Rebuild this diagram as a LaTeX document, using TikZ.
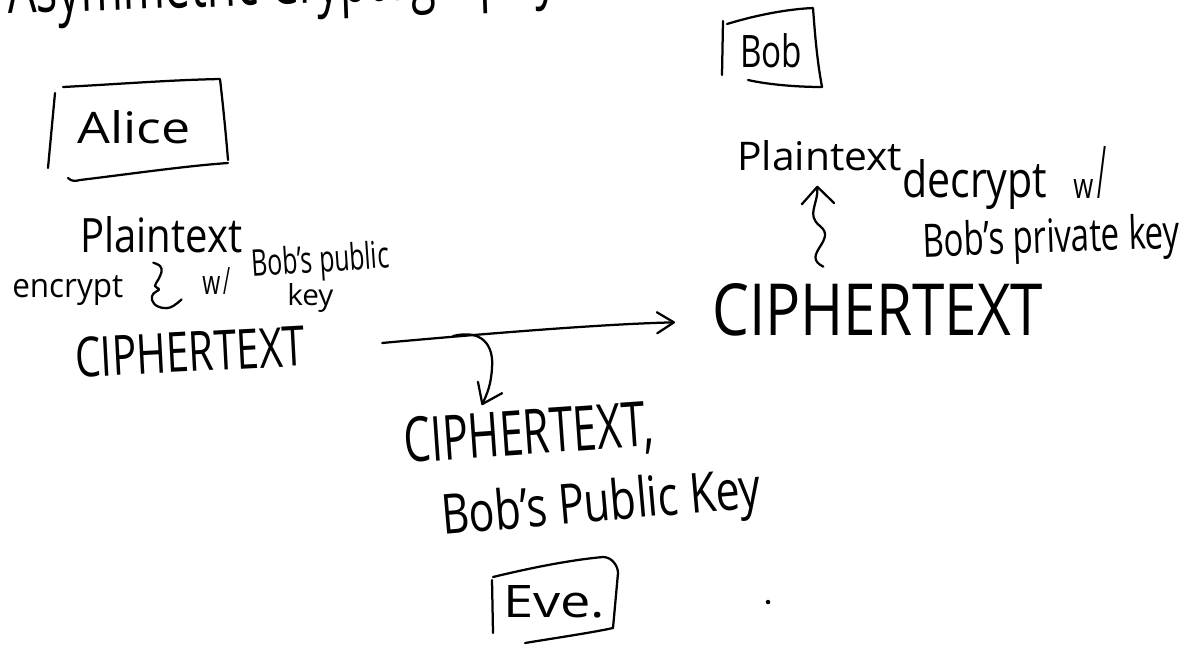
\documentclass[tikz,border=0pt]{standalone}
\usepackage{fontspec}
\setmainfont{Open Sans}
\usepackage{graphicx}
\usetikzlibrary{arrows.meta,calc}
\newlength\pxu
\setlength\pxu{0.025cm}
\newcommand{\hw}[3]{\resizebox{#1\pxu}{#2\pxu}{#3}}
\begin{document}
\begin{tikzpicture}[x=0.025cm,y=-0.025cm,
  pen/.style={line width=1.6pt, line cap=round, line join=round},
  hand/.style={inner sep=0pt, anchor=base west},
  tipmain/.style={pen,-{Straight Barb[length=12pt,width=15pt,round]}},
  tipdown/.style={pen,-{Straight Barb[length=13pt,width=19pt,round]}},
  tipup/.style={pen,-{Straight Barb[length=12pt,width=23pt,round]}}]
\useasboundingbox (0,0) rectangle (1188,647);

% texts
\node[hand, rotate=2] (title) at (8,14) {\hw{550}{52}{Asymmetric Cryptography}};
\node[hand] (alice) at (77,143) {\hw{113}{33}{Alice}};
\node[hand] (bob) at (740,67) {\hw{62}{34}{Bob}};
\node[hand] (ptL) at (80,252) {\hw{162}{36}{Plaintext}};
\node[hand] (enc) at (12,297) {\hw{111}{22}{encrypt}};
\node[hand] (wL) at (202,294) {\hw{18}{18}{w}\hspace{3\pxu}\hw{7}{27}{/}};
\node[hand, rotate=4] (bpub) at (252,277) {\hw{138}{28}{Bob's public}};
\node[hand] (keyL) at (287,305) {\hw{46}{22}{key}};
\node[inner sep=0pt, rotate=3] (ctL) at (190,352) {\hw{230}{40}{CIPHERTEXT}};
\node[hand] (ptR) at (737,170) {\hw{165}{30}{Plaintext}};
\node[hand] (dec) at (902,197) {\hw{145}{38}{decrypt}};
\node[hand] (wR) at (1073,198) {\hw{20}{19}{w}\hspace{4\pxu}\hw{9}{52}{/}};
\node[hand, rotate=2] (bpriv) at (923,257) {\hw{257}{35}{Bob's private key}};
\node[hand] (ctR) at (712,335) {\hw{331}{52}{CIPHERTEXT}};
\node[hand, rotate=4] (ct2) at (405,463) {\hw{250}{45}{CIPHERTEXT,}};
\node[hand, rotate=5] (bpk) at (443,535) {\hw{320}{42}{Bob's Public Key}};
\node[hand] (eve) at (503,617) {\hw{102}{32}{Eve.}};

% hand-drawn boxes
\draw[pen] (55,93) -- (48,168);
\draw[pen] (63,87) .. controls (120,84) and (170,80) .. (220,79) .. controls (223,105) and (226,135) .. (228,160);
\draw[pen] (68,178) .. controls (72,182) and (76,181) .. (80,180) .. controls (130,174) and (185,166) .. (228,163);

\draw[pen] (723,21) -- (722,75);
\draw[pen] (727,24) .. controls (760,14) and (790,9) .. (813,8) .. controls (815,35) and (817,60) .. (822,87);
\draw[pen] (748,80) .. controls (770,85) and (800,87) .. (822,87);

\draw[pen] (492,580) -- (493,633);
\draw[pen] (493,577) .. controls (530,568) and (570,560) .. (603,557) .. controls (612,557) and (618,566) .. (618,573) -- (613,628);
\draw[pen] (525,643) .. controls (555,638) and (590,633) .. (613,628);

% encrypt brace
\draw[pen] plot[smooth, tension=0.7] coordinates {($(ptL.south)+(-8,10)$) (160,266) (161.5,272) (158,280) (155,286) (159,289.5) (153.5,293.5) (152,300) (158,306.5) (170,307.5) (181.5,299.5)};

% connectors
\coordinate (aS) at ($(ctL.east)+(77,-3)$);
\coordinate (br) at ($(ctL.east)+(148,-10)$);
\draw[tipmain] (aS) .. controls (470,335) and (600,324) .. ($(ctR.west)+(-37,13)$);
\draw[tipdown] (br) .. controls (482,329) and (494,345) .. (492,368) .. controls (491,385) and (487,394) .. ($(ct2.north)+(-45,-4)$);
\draw[tipup] ($(ctR.north)+(-54.5,-16)$) .. controls (800,255) and (838,240) .. (820,226) .. controls (806,215) and (818,205) .. ($(ptR.south)+(-2.5,15)$);

% stray dot
\fill (768,602) circle (1.6pt);
\end{tikzpicture}
\end{document}
